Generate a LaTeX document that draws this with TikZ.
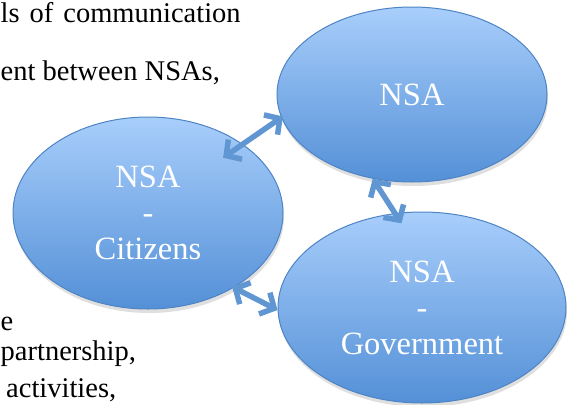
\documentclass[tikz,border=0pt]{standalone}
\usepackage{fontspec}
\setmainfont{Liberation Serif}
\usepackage{tikz}
\usetikzlibrary{arrows.meta,shapes.geometric,shadows}
\definecolor{bubbletop}{RGB}{168,206,251}
\definecolor{bubblebot}{RGB}{84,144,215}
\definecolor{bubbleline}{RGB}{78,132,196}
\definecolor{linkblue}{RGB}{96,150,210}
\tikzstyle{bubble} = [ellipse, draw=bubbleline, line width=1pt, top color=bubbletop, bottom color=bubblebot, text=white, align=center, font=\fontsize{32.5}{36}\selectfont, drop shadow={shadow xshift=1pt, shadow yshift=-4pt, opacity=0.25}]
\tikzstyle{link} = [draw=linkblue, line width=5.5pt, >={Straight Barb[length=11pt,width=24pt]}, <->]
\tikzstyle{para} = [inner sep=0pt, anchor=base west, font=\fontsize{28.5}{34}\selectfont]

\begin{document}
\begin{tikzpicture}[x=1pt, y=-1pt]
\clip (0,0) rectangle (574,405);

 \node (ln1) [para] at (0.5,22) {\makebox[240pt][s]{ls of communication}};
 \node (ln2) [para] at (0.5,80) {ent between NSAs,};
 \node (ln3) [para] at (0.5,330) {e};
 \node (ln4) [para] at (0.5,360) {partnership,};
 \node (ln5) [para] at (6,397) {activities,};

 \node (nsa) [bubble, minimum width=270pt, minimum height=175pt] at (412,94.5) {NSA};
 \node (cit) [bubble, minimum width=270pt, minimum height=192pt] at (148,213) {NSA\\-\\Citizens};
 \node (gov) [bubble, minimum width=288pt, minimum height=191pt] at (422,307.5) {NSA\\-\\Government};

 \draw [link, shorten <=-24pt, shorten >=-2pt] (cit.36) -- (nsa.190);
 \draw [link, shorten >=-12pt] (nsa.245) -- (gov.106);
 \draw [link, shorten <=-2pt] (cit.319) -- (gov.181);
\end{tikzpicture}
\end{document}
